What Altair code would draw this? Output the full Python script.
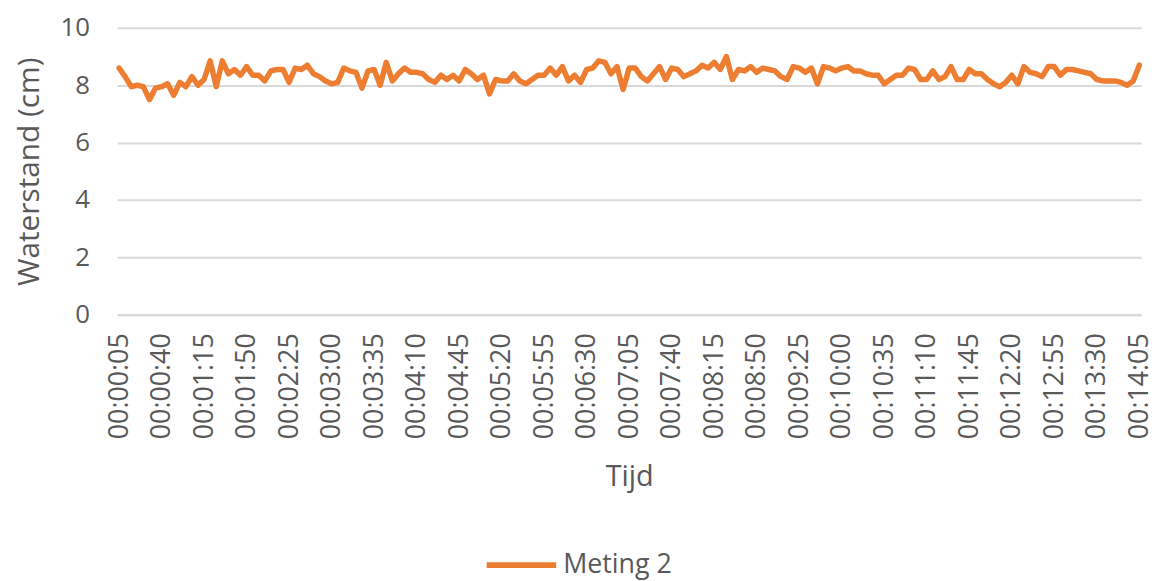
import altair as alt
import pandas as pd

# Time stamps: every 5 seconds from 00:00:05 to 00:14:05
tijd = ["00:%02d:%02d" % ((s // 60), (s % 60)) for s in range(5, 846, 5)]

waterstand = [
    8.6, 8.3, 7.95, 8.0, 7.95, 7.5, 7.9, 7.95, 8.05, 7.65,
    8.1, 7.95, 8.3, 8.0, 8.2, 8.85, 7.95, 8.85, 8.4, 8.55,
    8.35, 8.65, 8.35, 8.35, 8.15, 8.5, 8.55, 8.55, 8.1, 8.6,
    8.55, 8.7, 8.4, 8.3, 8.15, 8.05, 8.1, 8.6, 8.5, 8.45,
    7.9, 8.5, 8.55, 8.0, 8.8, 8.15, 8.4, 8.6, 8.45, 8.45,
    8.4, 8.2, 8.1, 8.35, 8.2, 8.35, 8.15, 8.55, 8.4, 8.2,
    8.35, 7.7, 8.2, 8.15, 8.15, 8.4, 8.15, 8.05, 8.2, 8.35,
    8.35, 8.6, 8.35, 8.65, 8.15, 8.35, 8.1, 8.55, 8.6, 8.85,
    8.8, 8.4, 8.65, 7.85, 8.6, 8.6, 8.3, 8.15, 8.4, 8.65,
    8.2, 8.6, 8.55, 8.3, 8.4, 8.5, 8.7, 8.6, 8.8, 8.55,
    9.0, 8.2, 8.55, 8.5, 8.65, 8.45, 8.6, 8.55, 8.5, 8.3,
    8.2, 8.65, 8.6, 8.45, 8.6, 8.05, 8.65, 8.6, 8.5, 8.6,
    8.65, 8.5, 8.5, 8.4, 8.35, 8.35, 8.05, 8.2, 8.35, 8.35,
    8.6, 8.55, 8.2, 8.2, 8.5, 8.2, 8.3, 8.65, 8.2, 8.2,
    8.55, 8.4, 8.4, 8.2, 8.05, 7.95, 8.1, 8.35, 8.05, 8.65,
    8.45, 8.4, 8.3, 8.65, 8.65, 8.35, 8.55, 8.55, 8.5, 8.45,
    8.4, 8.2, 8.15, 8.15, 8.15, 8.1, 8.0, 8.15, 8.7,
]

serie = ["Meting 2"] * len(tijd)

df = pd.DataFrame({"Tijd": tijd, "Waterstand": waterstand, "Serie": serie})

FONT = "Open Sans"
TXT = "#595959"
GRID = "#d9d9d9"

label_values = tijd[::7]

chart = alt.Chart(df).mark_line(strokeWidth=5.5, strokeJoin="round", strokeCap="round").encode(
    x=alt.X(
        "Tijd:O",
        sort=None,
        scale=alt.Scale(type="point", padding=0.3),
        axis=alt.Axis(
            values=label_values,
            labelAngle=-90,
            labelPadding=18,
            labelFontSize=27,
            labelFont=FONT,
            labelColor=TXT,
            ticks=False,
            domain=True,
            domainColor=GRID,
            domainWidth=2,
            grid=False,
            title="Tijd",
            titleFont=FONT,
            titleFontSize=29,
            titleFontWeight="normal",
            titleColor=TXT,
            titlePadding=24,
        ),
    ),
    y=alt.Y(
        "Waterstand:Q",
        scale=alt.Scale(domain=[0, 10], nice=False),
        axis=alt.Axis(
            values=[0, 2, 4, 6, 8, 10],
            labelPadding=28,
            labelFontSize=26,
            labelFont=FONT,
            labelColor=TXT,
            ticks=False,
            domain=False,
            grid=True,
            gridColor=GRID,
            gridWidth=2,
            title="Waterstand (cm)",
            titleFont=FONT,
            titleFontSize=30,
            titleFontWeight="normal",
            titleColor=TXT,
            titlePadding=16,
        ),
    ),
    color=alt.Color(
        "Serie:N",
        scale=alt.Scale(range=["#ED7D31"]),
        legend=alt.Legend(
            title=None,
            orient="none",
            legendX=369,
            legendY=503,
            symbolType="stroke",
            symbolSize=4900,
            symbolStrokeWidth=6,
            labelFont=FONT,
            labelFontSize=27,
            labelColor=TXT,
            labelOffset=4,
        ),
    ),
).properties(
    width=1031,
    height=289,
    padding={"left": 110, "top": 18, "right": 18, "bottom": 266},
    autosize=alt.AutoSizeParams(type="none"),
).configure_view(
    stroke=None
)

chart.save("out.html", embed_options={"renderer": "svg", "actions": False})
